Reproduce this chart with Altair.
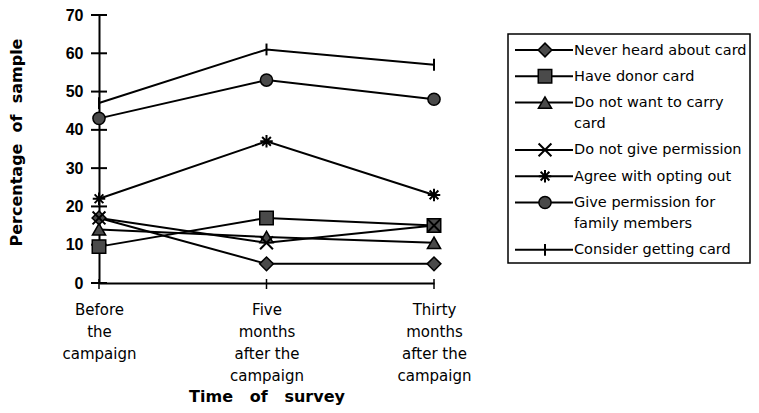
import altair as alt
import pandas as pd

# ---- data ----
times = ["Before|the|campaign", "Five|months|after the|campaign", "Thirty|months|after the|campaign"]
series = ["Never heard about card", "Have donor card", "Do not want to carry card",
          "Do not give permission", "Agree with opting out",
          "Give permission for family members", "Consider getting card"]
legend_labels = ["Never heard about card", "Have donor card", "Do not want to carry|card",
                 "Do not give permission", "Agree with opting out",
                 "Give permission for|family members", "Consider getting card"]
never_heard = [17, 5, 5]
donor_card = [9.5, 17, 15]
not_carry = [14, 12, 10.5]
no_permission = [17, 10.5, 15]
opting_out = [22, 37, 23]
family = [43, 53, 48]
consider = [47, 61, 57]
y_ticks = [0, 10, 20, 30, 40, 50, 60, 70]

values = [never_heard, donor_card, not_carry, no_permission, opting_out, family, consider]

# ---- styles ----
shapes = ["diamond", "square", "triangle-up",
          "M-1,-1L1,1M-1,1L1,-1",
          "M-1,0L1,0M0,-1L0,1M-0.7,-0.7L0.7,0.7M-0.7,0.7L0.7,-0.7",
          "circle",
          "M0,-1L0,1"]
sizes = [190, 140, 170, 190, 220, 165, 190]
line_widths = [2, 2, 2, 1.3, 2, 2, 1.1]
filled_series = [series[i] for i in (0, 1, 2, 5)]
stroked_series = [series[i] for i in (3, 4, 6)]

rows = []
for s, vals in zip(series, values):
    for t, v in zip(times, vals):
        rows.append({"series": s, "time": t, "value": v})
df = pd.DataFrame(rows)

# legend table (layout derived from label line counts)
leg_rows = []
extra = 0
for i, (s, lab) in enumerate(zip(series, legend_labels)):
    leg_rows.append({"series": s, "label": lab, "ly": 35 + 26.3 * i + 21 * extra})
    extra += lab.count("|")
leg = pd.DataFrame(leg_rows)

W, H = 335, 268
FONT = "DejaVu Sans"

shape_scale = alt.Scale(domain=series, range=shapes)
size_scale = alt.Scale(domain=series, range=sizes)
sw_scale = alt.Scale(domain=series, range=line_widths)

x_axis = alt.Axis(title="Time\u00a0\u00a0 of\u00a0\u00a0 survey",
                  labelExpr="split(datum.label, '|')",
                  labelAngle=0, ticks=False, labelPadding=19,
                  labelLineHeight=22, labelFont=FONT, labelFontSize=15,
                  labelColor="black",
                  domainColor="black", domainWidth=2,
                  titleFont=FONT, titleFontSize=16, titleFontWeight="bold",
                  titleColor="black", titleY=113, titleBaseline="middle")
y_axis = alt.Axis(title="Percentage\u00a0 of\u00a0 sample", values=y_ticks,
                  ticks=False, labelPadding=16, grid=False,
                  labelFont="Liberation Sans", labelFontSize=16,
                  labelFontWeight="bold", labelColor="black",
                  domainColor="black", domainWidth=2,
                  titleFont=FONT, titleFontSize=16, titleFontWeight="bold",
                  titleColor="black", titleX=-83, titleY=127,
                  titleBaseline="middle")

x_enc = alt.X("time:O", sort=times, scale=alt.Scale(type="point", padding=0), axis=x_axis)
y_enc = alt.Y("value:Q", scale=alt.Scale(domain=[0, 70], nice=False), axis=y_axis)

base = alt.Chart(df)

lines = base.mark_line(color="black").encode(
    x=x_enc, y=y_enc, detail="series:N",
    strokeWidth=alt.StrokeWidth("series:N", scale=sw_scale, legend=None))

pts_filled = base.mark_point(filled=True, fill="#4a4a4a", stroke="black",
                             strokeWidth=1.5, opacity=1).encode(
    x=x_enc, y=y_enc,
    shape=alt.Shape("series:N", scale=shape_scale, legend=None),
    size=alt.Size("series:N", scale=size_scale, legend=None)
).transform_filter(alt.FieldOneOfPredicate(field="series", oneOf=filled_series))

pts_stroked = base.mark_point(filled=False, stroke="black", strokeWidth=2,
                              opacity=1).encode(
    x=x_enc, y=y_enc,
    shape=alt.Shape("series:N", scale=shape_scale, legend=None),
    size=alt.Size("series:N", scale=size_scale, legend=None)
).transform_filter(alt.FieldOneOfPredicate(field="series", oneOf=stroked_series))

ytick_df = pd.DataFrame({"value": y_ticks})
ytick_rules = alt.Chart(ytick_df).mark_rule(color="black", strokeWidth=2).encode(
    y=y_enc, x=alt.value(-8), x2=alt.value(8))

xtick_df = pd.DataFrame({"time": times})
xtick_rules = alt.Chart(xtick_df).mark_rule(color="black", strokeWidth=1.5).encode(
    x=x_enc, y=alt.value(H - 4), y2=alt.value(H + 6))

# ---- legend drawn beside the plot ----
box = alt.Chart(alt.Data(values=[{"a": 1}])).mark_rect(
    fill="white", fillOpacity=0, stroke="black", strokeWidth=1.5).encode(
    x=alt.value(409), x2=alt.value(651), y=alt.value(19), y2=alt.value(248))

leg_base = alt.Chart(leg)
leg_lines = leg_base.mark_rule(color="black").encode(
    x=alt.value(416), x2=alt.value(474),
    y=alt.Y("ly:Q", scale=None, axis=None),
    strokeWidth=alt.StrokeWidth("series:N", scale=sw_scale, legend=None))
leg_pf = leg_base.mark_point(filled=True, fill="#4a4a4a", stroke="black",
                             strokeWidth=1.5, opacity=1).encode(
    x=alt.value(446), y=alt.Y("ly:Q", scale=None, axis=None),
    shape=alt.Shape("series:N", scale=shape_scale, legend=None),
    size=alt.Size("series:N", scale=size_scale, legend=None)
).transform_filter(alt.FieldOneOfPredicate(field="series", oneOf=filled_series))
leg_ps = leg_base.mark_point(filled=False, stroke="black", strokeWidth=2,
                             opacity=1).encode(
    x=alt.value(446), y=alt.Y("ly:Q", scale=None, axis=None),
    shape=alt.Shape("series:N", scale=shape_scale, legend=None),
    size=alt.Size("series:N", scale=size_scale, legend=None)
).transform_filter(alt.FieldOneOfPredicate(field="series", oneOf=stroked_series))
leg_text = leg_base.mark_text(align="left", baseline="top", dy=-6.5, font=FONT,
                              fontSize=14.5, color="black", lineBreak="|",
                              lineHeight=21).encode(
    x=alt.value(475), y=alt.Y("ly:Q", scale=None, axis=None), text="label:N")

chart = alt.layer(
    lines, ytick_rules, xtick_rules, pts_filled, pts_stroked,
    box, leg_lines, leg_pf, leg_ps, leg_text
).properties(
    width=W, height=H,
    autosize=alt.AutoSizeParams(type="none"),
    padding={"left": 91, "top": 7, "right": 317, "bottom": 122},
    background="white"
).configure_view(stroke=None)

chart.save("out.html", embed_options={"renderer": "svg", "actions": False})
